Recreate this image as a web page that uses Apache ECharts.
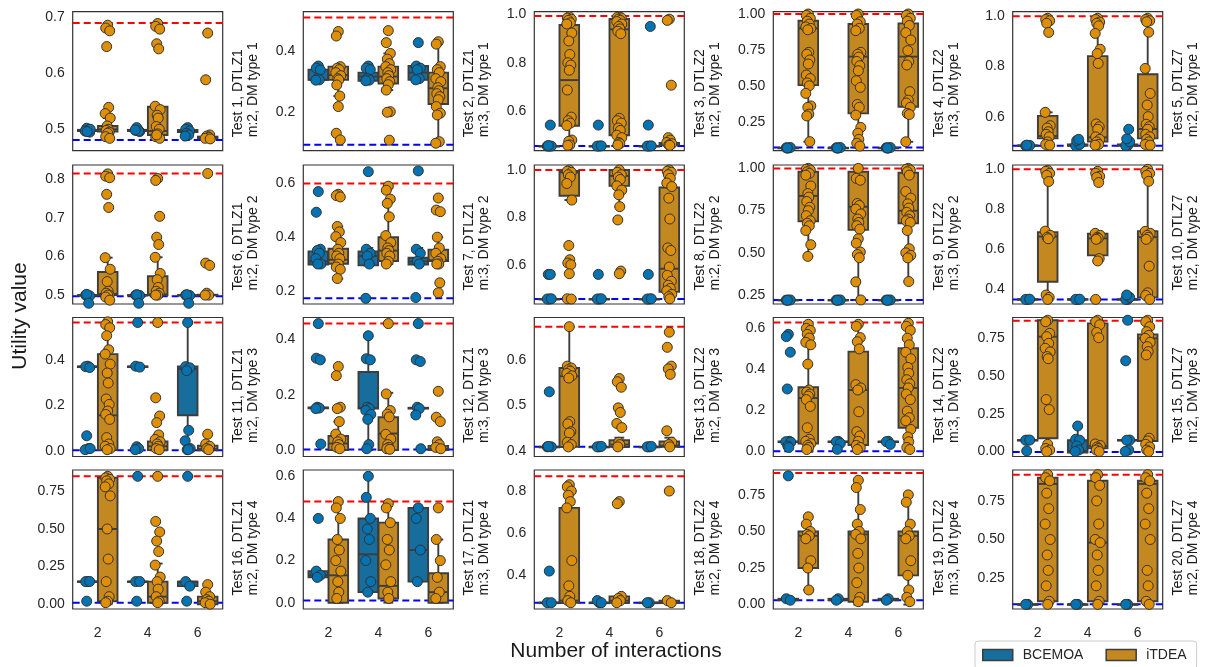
<!DOCTYPE html>
<html><head><meta charset="utf-8">
<script src="https://cdn.jsdelivr.net/npm/echarts@6/dist/echarts.min.js"></script>
<style>html,body{margin:0;padding:0;background:#fff}#c{width:1205px;height:667px}</style>
</head><body><div id="c"></div>
<script>
const categories = ['2', '4', '6'];
const seriesNames = ['BCEMOA', 'iTDEA'];
const xAxisTitle = 'Number of interactions';
const yAxisTitle = 'Utility value';
const panelTitles = [
  'Test 1, DTLZ1\nm:2, DM type 1', 'Test 2, DTLZ1\nm:3, DM type 1', 'Test 3, DTLZ2\nm:2, DM type 1', 'Test 4, DTLZ2\nm:3, DM type 1', 'Test 5, DTLZ7\nm:2, DM type 1',
  'Test 6, DTLZ1\nm:2, DM type 2', 'Test 7, DTLZ1\nm:3, DM type 2', 'Test 8, DTLZ2\nm:2, DM type 2', 'Test 9, DTLZ2\nm:3, DM type 2', 'Test 10, DTLZ7\nm:2, DM type 2',
  'Test 11, DTLZ1\nm:2, DM type 3', 'Test 12, DTLZ1\nm:3, DM type 3', 'Test 13, DTLZ2\nm:2, DM type 3', 'Test 14, DTLZ2\nm:3, DM type 3', 'Test 15, DTLZ7\nm:2, DM type 3',
  'Test 16, DTLZ1\nm:2, DM type 4', 'Test 17, DTLZ1\nm:3, DM type 4', 'Test 18, DTLZ2\nm:2, DM type 4', 'Test 19, DTLZ2\nm:3, DM type 4', 'Test 20, DTLZ7\nm:2, DM type 4'
];

// ---- Test 1 ----
const t1Range = [0.462, 0.709];
const t1Ticks = ['0.5', '0.6', '0.7'];
const t1Ref = [0.689, 0.481];
const t1BoxB = [[0.495, 0.497, 0.498, 0.499, 0.501], [0.495, 0.497, 0.498, 0.499, 0.501], [0.49, 0.495, 0.497, 0.499, 0.503]];
const t1BoxI = [[0.483, 0.496, 0.5, 0.506, 0.52], [0.482, 0.49, 0.497, 0.54, 0.54], [0.483, 0.484, 0.485, 0.487, 0.49]];
const t1PtsB = [[0.5, 0.497, 0.495, 0.502, 0.499, 0.497, 0.5, 0.496], [0.5, 0.498, 0.496, 0.503, 0.497, 0.499], [0.503, 0.5, 0.497, 0.493, 0.49, 0.488]];
const t1PtsI = [[0.685, 0.68, 0.675, 0.647, 0.539, 0.528, 0.52, 0.506, 0.5, 0.498, 0.495, 0.493, 0.487, 0.484], [0.688, 0.683, 0.678, 0.652, 0.643, 0.541, 0.535, 0.525, 0.52, 0.505, 0.5, 0.492, 0.487, 0.484, 0.49], [0.671, 0.588, 0.49, 0.488, 0.486, 0.484, 0.483]];
// ---- Test 2 ----
const t2Range = [0.07, 0.533];
const t2Ticks = ['0.2', '0.4'];
const t2Ref = [0.514, 0.09];
const t2BoxB = [[0.305, 0.306, 0.306, 0.34, 0.352], [0.303, 0.303, 0.317, 0.33, 0.352], [0.306, 0.306, 0.33, 0.352, 0.352]];
const t2BoxI = [[0.252, 0.306, 0.322, 0.35, 0.352], [0.272, 0.294, 0.317, 0.35, 0.394], [0.1, 0.2256, 0.278, 0.33, 0.433]];
const t2PtsB = [[0.352, 0.345, 0.339, 0.31, 0.306, 0.305], [0.352, 0.345, 0.34, 0.31, 0.305, 0.303], [0.43, 0.352, 0.345, 0.34, 0.31, 0.306]];
const t2PtsI = [[0.467, 0.452, 0.35, 0.345, 0.34, 0.33, 0.32, 0.31, 0.306, 0.289, 0.252, 0.217, 0.128, 0.106], [0.47, 0.43, 0.394, 0.375, 0.36, 0.35, 0.34, 0.33, 0.32, 0.31, 0.3, 0.29, 0.272, 0.2, 0.198, 0.105], [0.433, 0.425, 0.35, 0.34, 0.33, 0.31, 0.3, 0.28, 0.27, 0.26, 0.25, 0.24, 0.217, 0.195, 0.189, 0.1, 0.095]];
// ---- Test 3 ----
const t3Range = [0.436, 1.011];
const t3Ticks = ['0.6', '0.8', '1.0'];
const t3Ref = [0.993, 0.455];
const t3BoxB = [[0.455, 0.455, 0.455, 0.455, 0.455], [0.455, 0.455, 0.455, 0.455, 0.455], [0.455, 0.455, 0.455, 0.455, 0.455]];
const t3BoxI = [[0.465, 0.539, 0.728, 0.956, 0.99], [0.455, 0.5, 0.938, 0.981, 0.995], [0.455, 0.46, 0.462, 0.468, 0.49]];
const t3PtsB = [[0.455, 0.455, 0.455, 0.457, 0.542], [0.455, 0.455, 0.456, 0.542], [0.455, 0.455, 0.456, 0.542, 0.95]];
const t3PtsI = [[0.99, 0.985, 0.98, 0.975, 0.965, 0.96, 0.923, 0.89, 0.834, 0.8, 0.79, 0.769, 0.687, 0.575, 0.56, 0.55, 0.54, 0.48, 0.475, 0.46, 0.458], [0.99, 0.988, 0.985, 0.98, 0.975, 0.97, 0.96, 0.95, 0.94, 0.93, 0.92, 0.57, 0.56, 0.55, 0.53, 0.52, 0.5, 0.49, 0.47, 0.465, 0.46], [0.98, 0.975, 0.707, 0.49, 0.48, 0.47, 0.465, 0.46, 0.458]];
// ---- Test 4 ----
const t4Range = [0.048, 1.016];
const t4Ticks = ['0.25', '0.50', '0.75', '1.00'];
const t4Ref = [1.0, 0.071];
const t4BoxB = [[0.065, 0.066, 0.067, 0.068, 0.07], [0.065, 0.066, 0.067, 0.068, 0.07], [0.065, 0.066, 0.067, 0.068, 0.07]];
const t4BoxI = [[0.111, 0.505, 0.9, 0.953, 1.0], [0.07, 0.308, 0.703, 0.93, 1.0], [0.11, 0.354, 0.703, 0.935, 1.0]];
const t4PtsB = [[0.066, 0.068, 0.07, 0.067], [0.066, 0.068, 0.07, 0.067], [0.066, 0.068, 0.07, 0.067]];
const t4PtsI = [[1.0, 0.99, 0.97, 0.95, 0.93, 0.91, 0.9, 0.89, 0.733, 0.72, 0.68, 0.652, 0.575, 0.55, 0.52, 0.5, 0.447, 0.36, 0.35, 0.303, 0.29, 0.111], [1.0, 0.99, 0.946, 0.93, 0.9, 0.884, 0.733, 0.72, 0.7, 0.67, 0.64, 0.605, 0.535, 0.489, 0.37, 0.35, 0.296, 0.21, 0.17, 0.127, 0.1, 0.08], [1.0, 0.99, 0.97, 0.95, 0.92, 0.87, 0.819, 0.745, 0.67, 0.645, 0.459, 0.4, 0.38, 0.35, 0.308, 0.3, 0.11]];
// ---- Test 5 ----
const t5Range = [0.465, 1.016];
const t5Ticks = ['0.6', '0.8', '1.0'];
const t5Ref = [0.998, 0.485];
const t5BoxB = [[0.485, 0.485, 0.485, 0.486, 0.487], [0.485, 0.485, 0.486, 0.49, 0.5], [0.485, 0.485, 0.486, 0.49, 0.5]];
const t5BoxI = [[0.485, 0.514, 0.523, 0.603, 0.617], [0.485, 0.501, 0.518, 0.84, 0.99], [0.485, 0.514, 0.551, 0.768, 0.99]];
const t5PtsB = [[0.485, 0.485, 0.486, 0.487], [0.485, 0.485, 0.49, 0.505, 0.51], [0.485, 0.485, 0.5, 0.512, 0.55]];
const t5PtsI = [[0.99, 0.985, 0.98, 0.97, 0.934, 0.617, 0.564, 0.555, 0.54, 0.53, 0.52, 0.5, 0.49, 0.487], [0.99, 0.985, 0.975, 0.97, 0.96, 0.93, 0.867, 0.85, 0.811, 0.571, 0.56, 0.55, 0.52, 0.51, 0.5, 0.49, 0.487], [0.99, 0.985, 0.98, 0.976, 0.935, 0.791, 0.692, 0.646, 0.6, 0.57, 0.56, 0.55, 0.53, 0.52, 0.51, 0.5, 0.49, 0.487]];
// ---- Test 6 ----
const t6Range = [0.477, 0.837];
const t6Ticks = ['0.5', '0.6', '0.7', '0.8'];
const t6Ref = [0.815, 0.497];
const t6BoxB = [[0.499, 0.5, 0.5, 0.5, 0.501], [0.499, 0.5, 0.5, 0.5, 0.501], [0.499, 0.5, 0.5, 0.5, 0.501]];
const t6BoxI = [[0.49, 0.5, 0.503, 0.56, 0.597], [0.495, 0.5, 0.502, 0.549, 0.598], [0.499, 0.5, 0.5, 0.501, 0.505]];
const t6PtsB = [[0.5, 0.5, 0.498, 0.502, 0.479], [0.5, 0.5, 0.499, 0.501, 0.479], [0.5, 0.5, 0.499, 0.501, 0.479]];
const t6PtsI = [[0.814, 0.808, 0.804, 0.761, 0.727, 0.597, 0.567, 0.535, 0.51, 0.505, 0.5, 0.5, 0.495, 0.487], [0.802, 0.797, 0.704, 0.65, 0.631, 0.598, 0.556, 0.54, 0.52, 0.51, 0.505, 0.5, 0.5], [0.815, 0.583, 0.577, 0.505, 0.5, 0.5]];
// ---- Test 7 ----
const t7Range = [0.151, 0.669];
const t7Ticks = ['0.2', '0.4', '0.6'];
const t7Ref = [0.6, 0.172];
const t7BoxB = [[0.298, 0.298, 0.31, 0.347, 0.36], [0.295, 0.295, 0.33, 0.347, 0.36], [0.298, 0.298, 0.31, 0.3235, 0.36]];
const t7BoxI = [[0.245, 0.301, 0.316, 0.357, 0.44], [0.3, 0.311, 0.35, 0.4, 0.585], [0.3, 0.311, 0.314, 0.353, 0.4]];
const t7PtsB = [[0.57, 0.493, 0.355, 0.35, 0.34, 0.32, 0.3, 0.3], [0.644, 0.355, 0.34, 0.33, 0.3, 0.172], [0.647, 0.355, 0.34, 0.31, 0.3, 0.175]];
const t7PtsI = [[0.56, 0.555, 0.55, 0.44, 0.42, 0.402, 0.38, 0.355, 0.34, 0.33, 0.32, 0.3, 0.289, 0.28, 0.246], [0.59, 0.575, 0.542, 0.526, 0.476, 0.406, 0.38, 0.36, 0.35, 0.34, 0.33, 0.31, 0.3], [0.546, 0.501, 0.495, 0.4, 0.36, 0.34, 0.32, 0.31, 0.3, 0.3, 0.23, 0.193]];
// ---- Test 8 ----
const t8Range = [0.434, 1.021];
const t8Ticks = ['0.6', '0.8', '1.0'];
const t8Ref = [1.0, 0.455];
const t8BoxB = [[0.455, 0.455, 0.455, 0.455, 0.455], [0.455, 0.455, 0.455, 0.455, 0.455], [0.455, 0.455, 0.455, 0.455, 0.455]];
const t8BoxI = [[0.873, 0.891, 0.99, 0.996, 1.0], [0.845, 0.933, 0.975, 1.0, 1.0], [0.455, 0.485, 0.583, 0.926, 1.0]];
const t8PtsB = [[0.455, 0.455, 0.456, 0.559, 0.559], [0.455, 0.455, 0.456, 0.559], [0.455, 0.455, 0.456, 0.559]];
const t8PtsI = [[1.0, 0.995, 0.99, 0.98, 0.97, 0.943, 0.873, 0.681, 0.621, 0.607, 0.6, 0.562, 0.456, 0.455], [1.0, 0.99, 0.98, 0.97, 0.96, 0.933, 0.915, 0.895, 0.845, 0.789, 0.573, 0.562], [1.0, 0.995, 0.99, 0.98, 0.965, 0.945, 0.93, 0.881, 0.793, 0.671, 0.66, 0.59, 0.555, 0.53, 0.513, 0.5, 0.49, 0.475, 0.465, 0.456]];
// ---- Test 9 ----
const t9Range = [0.197, 1.02];
const t9Ticks = ['0.25', '0.50', '0.75', '1.00'];
const t9Ref = [1.0, 0.2206];
const t9BoxB = [[0.219, 0.22, 0.22, 0.221, 0.222], [0.219, 0.22, 0.22, 0.221, 0.222], [0.219, 0.22, 0.22, 0.221, 0.222]];
const t9BoxI = [[0.479, 0.687, 0.837, 0.98, 1.0], [0.22, 0.636, 0.773, 0.98, 1.0], [0.33, 0.675, 0.749, 0.974, 1.0]];
const t9PtsB = [[0.22, 0.22, 0.221, 0.219], [0.22, 0.22, 0.221, 0.219], [0.22, 0.22, 0.221, 0.219]];
const t9PtsI = [[1.0, 0.995, 0.99, 0.98, 0.97, 0.96, 0.896, 0.851, 0.83, 0.804, 0.77, 0.75, 0.72, 0.69, 0.675, 0.66, 0.632, 0.548, 0.479], [1.0, 0.941, 0.93, 0.792, 0.78, 0.759, 0.73, 0.7, 0.68, 0.661, 0.64, 0.583, 0.557, 0.505, 0.49, 0.471, 0.328, 0.221], [1.0, 0.995, 0.99, 0.98, 0.96, 0.863, 0.824, 0.79, 0.765, 0.74, 0.72, 0.7, 0.69, 0.68, 0.632, 0.524, 0.5, 0.485, 0.47, 0.33]];
// ---- Test 10 ----
const t10Range = [0.327, 1.0215];
const t10Ticks = ['0.4', '0.6', '0.8', '1.0'];
const t10Ref = [1.0, 0.35];
const t10BoxB = [[0.349, 0.35, 0.35, 0.351, 0.352], [0.349, 0.35, 0.35, 0.351, 0.352], [0.349, 0.35, 0.35, 0.351, 0.352]];
const t10BoxI = [[0.35, 0.438, 0.664, 0.686, 0.995], [0.542, 0.57, 0.655, 0.678, 0.68], [0.35, 0.36, 0.661, 0.691, 1.0]];
const t10PtsB = [[0.35, 0.35, 0.351], [0.35, 0.35, 0.351], [0.35, 0.35, 0.36, 0.372]];
const t10PtsI = [[0.995, 0.99, 0.98, 0.97, 0.939, 0.691, 0.67, 0.66, 0.653, 0.372, 0.36, 0.35], [0.99, 0.98, 0.965, 0.96, 0.934, 0.68, 0.67, 0.66, 0.655, 0.65, 0.554, 0.542, 0.35], [1.0, 0.99, 0.98, 0.97, 0.94, 0.69, 0.68, 0.67, 0.66, 0.65, 0.516, 0.383, 0.37, 0.35]];
// ---- Test 11 ----
const t11Range = [-0.025, 0.586];
const t11Ticks = ['0.0', '0.2', '0.4'];
const t11Ref = [0.564, 0.003];
const t11BoxB = [[0.365, 0.368, 0.37, 0.371, 0.372], [0.365, 0.368, 0.37, 0.371, 0.372], [0.005, 0.156, 0.36, 0.371, 0.564]];
const t11BoxI = [[0.0, 0.003, 0.156, 0.425, 0.564], [0.0, 0.003, 0.02, 0.041, 0.07], [0.0, 0.002, 0.008, 0.022, 0.03]];
const t11PtsB = [[0.372, 0.37, 0.366, 0.066, 0.01, 0.005, 0.01], [0.564, 0.372, 0.368, 0.018, 0.01, 0.005], [0.564, 0.37, 0.365, 0.352, 0.09, 0.044, 0.01, 0.005, 0.005]];
const t11PtsI = [[0.567, 0.555, 0.541, 0.506, 0.444, 0.425, 0.381, 0.342, 0.298, 0.228, 0.204, 0.175, 0.16, 0.138, 0.058, 0.03, 0.02, 0.01, 0.005], [0.564, 0.233, 0.153, 0.124, 0.07, 0.05, 0.04, 0.03, 0.02, 0.01, 0.005], [0.073, 0.03, 0.02, 0.01, 0.005]];
// ---- Test 12 ----
const t12Range = [-0.023, 0.479];
const t12Ticks = ['0.0', '0.2', '0.4'];
const t12Ref = [0.457, 0.002];
const t12BoxB = [[0.15, 0.151, 0.153, 0.154, 0.155], [0.0, 0.15, 0.152, 0.282, 0.413], [0.148, 0.15, 0.152, 0.153, 0.155]];
const t12BoxI = [[0.0, 0.0, 0.024, 0.051, 0.103], [0.0, 0.0, 0.06, 0.119, 0.207], [0.0, 0.0, 0.005, 0.0155, 0.03]];
const t12PtsB = [[0.457, 0.332, 0.326, 0.155, 0.152, 0.15, 0.022], [0.413, 0.33, 0.326, 0.155, 0.15, 0.143, 0.129, 0.111, 0.02, 0.005], [0.457, 0.326, 0.32, 0.155, 0.15, 0.127, 0.005]];
const t12PtsI = [[0.302, 0.269, 0.155, 0.15, 0.103, 0.058, 0.04, 0.03, 0.02, 0.01, 0.005], [0.457, 0.203, 0.143, 0.13, 0.12, 0.057, 0.04, 0.02, 0.01, 0.005, 0.003], [0.2125, 0.119, 0.103, 0.03, 0.02, 0.01, 0.005]];
// ---- Test 13 ----
const t13Range = [0.389, 0.692];
const t13Ticks = ['0.4', '0.5', '0.6'];
const t13Ref = [0.672, 0.41];
const t13BoxB = [[0.409, 0.41, 0.41, 0.41, 0.411], [0.409, 0.41, 0.41, 0.41, 0.411], [0.409, 0.41, 0.41, 0.41, 0.411]];
const t13BoxI = [[0.41, 0.41, 0.564, 0.582, 0.672], [0.41, 0.41, 0.415, 0.4245, 0.43], [0.41, 0.41, 0.413, 0.4217, 0.43]];
const t13PtsB = [[0.53, 0.41, 0.41, 0.411], [0.41, 0.41, 0.411], [0.41, 0.41, 0.411]];
const t13PtsI = [[0.672, 0.586, 0.582, 0.578, 0.575, 0.57, 0.565, 0.56, 0.465, 0.46, 0.443, 0.44, 0.42, 0.415, 0.41], [0.559, 0.552, 0.54, 0.495, 0.485, 0.461, 0.452, 0.42, 0.415, 0.41], [0.66, 0.627, 0.586, 0.58, 0.568, 0.445, 0.42, 0.415, 0.41]];
// ---- Test 14 ----
const t14Range = [-0.024, 0.653];
const t14Ticks = ['0.0', '0.2', '0.4', '0.6'];
const t14Ref = [0.629, 0.002];
const t14BoxB = [[0.045, 0.046, 0.048, 0.049, 0.05], [0.045, 0.046, 0.048, 0.049, 0.05], [0.045, 0.046, 0.048, 0.049, 0.05]];
const t14BoxI = [[0.0, 0.039, 0.261, 0.313, 0.63], [0.0, 0.032, 0.3, 0.487, 0.62], [0.0, 0.116, 0.31, 0.503, 0.63]];
const t14PtsB = [[0.571, 0.56, 0.484, 0.305, 0.05, 0.048, 0.046, 0.027, 0.02], [0.05, 0.048, 0.04, 0.011], [0.05, 0.048, 0.035]];
const t14PtsI = [[0.62, 0.6, 0.59, 0.571, 0.553, 0.532, 0.52, 0.426, 0.3, 0.29, 0.28, 0.27, 0.253, 0.22, 0.116, 0.06, 0.05, 0.039, 0.03, 0.02, 0.01], [0.62, 0.61, 0.555, 0.535, 0.5, 0.326, 0.31, 0.3, 0.194, 0.097, 0.076, 0.05, 0.03, 0.02, 0.01], [0.625, 0.61, 0.59, 0.552, 0.52, 0.484, 0.452, 0.41, 0.382, 0.35, 0.33, 0.31, 0.28, 0.253, 0.197, 0.165, 0.15, 0.108, 0.071, 0.048, 0.02, 0.01]];
// ---- Test 15 ----
const t15Range = [-0.033, 0.888];
const t15Ticks = ['0.00', '0.25', '0.50', '0.75'];
const t15Ref = [0.866, -0.003];
const t15BoxB = [[0.073, 0.074, 0.075, 0.076, 0.077], [-0.006, -0.006, 0.004, 0.075, 0.169], [0.073, 0.074, 0.075, 0.076, 0.077]];
const t15BoxI = [[0.0, 0.088, 0.761, 0.87, 0.87], [0.0, 0.022, 0.037, 0.849, 0.87], [0.0, 0.07, 0.75, 0.776, 0.87]];
const t15PtsB = [[0.075, 0.075, 0.076, 0.004], [0.169, 0.081, 0.075, 0.037, 0.01, 0.0], [0.87, 0.601, 0.076, 0.075, 0.01, 0.0]];
const t15PtsI = [[0.87, 0.86, 0.783, 0.761, 0.717, 0.684, 0.66, 0.629, 0.615, 0.344, 0.278, 0.048, 0.02, 0.01, 0.0], [0.87, 0.86, 0.84, 0.789, 0.754, 0.05, 0.04, 0.03, 0.02, 0.01, 0.0], [0.87, 0.86, 0.827, 0.794, 0.77, 0.75, 0.724, 0.695, 0.662, 0.64, 0.088, 0.07, 0.048, 0.03, 0.01, 0.0]];
// ---- Test 16 ----
const t16Range = [-0.032, 0.892];
const t16Ticks = ['0.00', '0.25', '0.50', '0.75'];
const t16Ref = [0.85, 0.01];
const t16BoxB = [[0.148, 0.15, 0.15, 0.151, 0.152], [0.148, 0.15, 0.15, 0.151, 0.152], [0.12, 0.12, 0.15, 0.15, 0.15]];
const t16BoxI = [[0.0, 0.02, 0.5, 0.84, 0.85], [0.0, 0.01, 0.05, 0.15, 0.27], [0.0, 0.0, 0.02, 0.05, 0.13]];
const t16PtsB = [[0.15, 0.15, 0.151, 0.02], [0.85, 0.15, 0.151, 0.02], [0.85, 0.15, 0.12, 0.02]];
const t16PtsI = [[0.85, 0.84, 0.83, 0.82, 0.8, 0.78, 0.72, 0.5, 0.3, 0.15, 0.05, 0.02, 0.01], [0.85, 0.55, 0.48, 0.42, 0.35, 0.26, 0.18, 0.15, 0.1, 0.05, 0.02, 0.01], [0.13, 0.08, 0.05, 0.03, 0.02, 0.01, 0.0]];
// ---- Test 17 ----
const t17Range = [-0.03, 0.63];
const t17Ticks = ['0.0', '0.2', '0.4', '0.6'];
const t17Ref = [0.48, 0.01];
const t17BoxB = [[0.12, 0.12, 0.13, 0.15, 0.15], [0.05, 0.05, 0.23, 0.4, 0.6], [0.1, 0.1, 0.25, 0.45, 0.45]];
const t17BoxI = [[0.0, 0.0, 0.13, 0.3, 0.48], [0.0, 0.02, 0.08, 0.38, 0.47], [0.0, 0.0, 0.05, 0.14, 0.3]];
const t17PtsB = [[0.4, 0.15, 0.13, 0.12], [0.6, 0.5, 0.4, 0.35, 0.3, 0.2, 0.1, 0.05], [0.45, 0.4, 0.25, 0.1]];
const t17PtsI = [[0.48, 0.45, 0.4, 0.3, 0.25, 0.2, 0.15, 0.1, 0.05, 0.02], [0.47, 0.45, 0.38, 0.3, 0.25, 0.18, 0.1, 0.05, 0.02], [0.45, 0.3, 0.2, 0.12, 0.05, 0.02]];
// ---- Test 18 ----
const t18Range = [0.24, 0.9];
const t18Ticks = ['0.4', '0.6', '0.8'];
const t18Ref = [0.87, 0.27];
const t18BoxB = [[0.269, 0.27, 0.27, 0.27, 0.271], [0.269, 0.27, 0.27, 0.27, 0.271], [0.269, 0.27, 0.27, 0.27, 0.271]];
const t18BoxI = [[0.27, 0.27, 0.28, 0.72, 0.83], [0.27, 0.27, 0.28, 0.3, 0.3], [0.27, 0.27, 0.27, 0.28, 0.28]];
const t18PtsB = [[0.42, 0.27, 0.27], [0.27, 0.28, 0.27], [0.27, 0.27]];
const t18PtsI = [[0.83, 0.82, 0.8, 0.78, 0.75, 0.72, 0.47, 0.35, 0.3, 0.28, 0.27], [0.75, 0.74, 0.3, 0.29, 0.28, 0.27], [0.8, 0.28, 0.27]];
// ---- Test 19 ----
const t19Range = [-0.03, 0.92];
const t19Ticks = ['0.00', '0.25', '0.50', '0.75'];
const t19Ref = [0.9, 0.03];
const t19BoxB = [[0.03, 0.03, 0.035, 0.04, 0.04], [0.03, 0.03, 0.035, 0.04, 0.04], [0.03, 0.03, 0.035, 0.04, 0.04]];
const t19BoxI = [[0.1, 0.25, 0.47, 0.5, 0.6], [0.0, 0.02, 0.48, 0.5, 0.85], [0.0, 0.2, 0.47, 0.5, 0.75]];
const t19PtsB = [[0.88, 0.04, 0.03], [0.04, 0.03], [0.04, 0.03]];
const t19PtsI = [[0.6, 0.55, 0.5, 0.48, 0.47, 0.45, 0.3, 0.25, 0.1], [0.85, 0.8, 0.65, 0.55, 0.5, 0.48, 0.45, 0.35, 0.25, 0.15, 0.05, 0.02], [0.75, 0.7, 0.55, 0.5, 0.47, 0.45, 0.3, 0.2, 0.1, 0.05, 0.02]];
// ---- Test 20 ----
const t20Range = [0.05, 0.95];
const t20Ticks = ['0.25', '0.50', '0.75'];
const t20Ref = [0.92, 0.08];
const t20BoxB = [[0.079, 0.08, 0.08, 0.08, 0.081], [0.079, 0.08, 0.08, 0.08, 0.081], [0.079, 0.08, 0.08, 0.08, 0.081]];
const t20BoxI = [[0.08, 0.1, 0.86, 0.9, 0.92], [0.08, 0.1, 0.48, 0.88, 0.92], [0.08, 0.1, 0.86, 0.88, 0.92]];
const t20PtsB = [[0.08, 0.08], [0.08, 0.08], [0.08, 0.08]];
const t20PtsI = [[0.92, 0.9, 0.88, 0.8, 0.7, 0.6, 0.5, 0.4, 0.3, 0.2, 0.1, 0.08], [0.92, 0.9, 0.85, 0.75, 0.6, 0.5, 0.48, 0.4, 0.3, 0.2, 0.1, 0.08], [0.92, 0.9, 0.88, 0.8, 0.7, 0.6, 0.5, 0.3, 0.2, 0.1, 0.08]];

const panels = [
  [t1Range, t1Ticks, t1Ref, t1BoxB, t1BoxI, t1PtsB, t1PtsI],
  [t2Range, t2Ticks, t2Ref, t2BoxB, t2BoxI, t2PtsB, t2PtsI],
  [t3Range, t3Ticks, t3Ref, t3BoxB, t3BoxI, t3PtsB, t3PtsI],
  [t4Range, t4Ticks, t4Ref, t4BoxB, t4BoxI, t4PtsB, t4PtsI],
  [t5Range, t5Ticks, t5Ref, t5BoxB, t5BoxI, t5PtsB, t5PtsI],
  [t6Range, t6Ticks, t6Ref, t6BoxB, t6BoxI, t6PtsB, t6PtsI],
  [t7Range, t7Ticks, t7Ref, t7BoxB, t7BoxI, t7PtsB, t7PtsI],
  [t8Range, t8Ticks, t8Ref, t8BoxB, t8BoxI, t8PtsB, t8PtsI],
  [t9Range, t9Ticks, t9Ref, t9BoxB, t9BoxI, t9PtsB, t9PtsI],
  [t10Range, t10Ticks, t10Ref, t10BoxB, t10BoxI, t10PtsB, t10PtsI],
  [t11Range, t11Ticks, t11Ref, t11BoxB, t11BoxI, t11PtsB, t11PtsI],
  [t12Range, t12Ticks, t12Ref, t12BoxB, t12BoxI, t12PtsB, t12PtsI],
  [t13Range, t13Ticks, t13Ref, t13BoxB, t13BoxI, t13PtsB, t13PtsI],
  [t14Range, t14Ticks, t14Ref, t14BoxB, t14BoxI, t14PtsB, t14PtsI],
  [t15Range, t15Ticks, t15Ref, t15BoxB, t15BoxI, t15PtsB, t15PtsI],
  [t16Range, t16Ticks, t16Ref, t16BoxB, t16BoxI, t16PtsB, t16PtsI],
  [t17Range, t17Ticks, t17Ref, t17BoxB, t17BoxI, t17PtsB, t17PtsI],
  [t18Range, t18Ticks, t18Ref, t18BoxB, t18BoxI, t18PtsB, t18PtsI],
  [t19Range, t19Ticks, t19Ref, t19BoxB, t19BoxI, t19PtsB, t19PtsI],
  [t20Range, t20Ticks, t20Ref, t20BoxB, t20BoxI, t20PtsB, t20PtsI]
];

// ---- layout & style ----
const FONT = '"Liberation Sans", Arial, sans-serif';
const colLeft = [72.7, 303.3, 534.3, 773.3, 1012.7];
const rowTop = [11.7, 165, 317.5, 470];
const W = 150, H = 139;
const pointColor = ['#0173b2', '#de8f05'];
const boxColor = ['#176d9c', '#c38820'];
const lineGray = '#3d3d3d';
const textColor = '#262626';
const jitterPx = [0, -2, 2, -1, 1, -2.5, 2.5, -0.5, 0.5, -1.5, 1.5];

function boxRenderer(hue) {
  return function (params, api) {
    const cat = api.value(0);
    const band = api.size([1, 0])[0];
    const cx = api.coord([cat, api.value(3)])[0] + (hue === 0 ? -0.2 : 0.2) * band;
    const w = 0.4 * band * 0.98;
    const ys = [1, 2, 3, 4, 5].map(d => api.coord([cat, api.value(d)])[1]);
    const ls = { stroke: lineGray, lineWidth: 1.9 };
    return {
      type: 'group', children: [
        { type: 'line', shape: { x1: cx, y1: ys[1], x2: cx, y2: ys[0] }, style: ls },
        { type: 'line', shape: { x1: cx, y1: ys[3], x2: cx, y2: ys[4] }, style: ls },
        { type: 'line', shape: { x1: cx - w / 4, y1: ys[0], x2: cx + w / 4, y2: ys[0] }, style: ls },
        { type: 'line', shape: { x1: cx - w / 4, y1: ys[4], x2: cx + w / 4, y2: ys[4] }, style: ls },
        { type: 'rect', shape: { x: cx - w / 2, y: ys[3], width: w, height: Math.max(ys[1] - ys[3], 0.5) }, style: { fill: boxColor[hue], stroke: lineGray, lineWidth: 1.9 } },
        { type: 'line', shape: { x1: cx - w / 2, y1: ys[2], x2: cx + w / 2, y2: ys[2] }, style: ls }
      ]
    };
  };
}

function refRenderer(params, api) {
  const y = api.coord([0, api.value(1)])[1];
  const cs = params.coordSys;
  return {
    type: 'line',
    shape: { x1: cs.x, y1: y, x2: cs.x + cs.width, y2: y },
    style: { stroke: api.value(2) === 0 ? '#ff0000' : '#0000ff', lineWidth: 2, lineDash: [7, 4] }
  };
}

const grid = [], xAxis = [], yAxis = [], series = [], graphic = [];
panels.forEach((p, k) => {
  const [range, ticks, ref, boxB, boxI, ptsB, ptsI] = p;
  const r = Math.floor(k / 5), c = k % 5;
  grid.push({ left: colLeft[c], top: rowTop[r], width: W, height: H, show: true, borderColor: '#333', borderWidth: 1.2, backgroundColor: '#fff' });
  xAxis.push({
    gridIndex: k, type: 'category', data: categories, boundaryGap: true,
    axisLine: { show: false }, axisTick: { show: false }, splitLine: { show: false },
    axisLabel: { show: r === 3, color: textColor, fontSize: 14, fontFamily: FONT, margin: 17 }
  });
  const tickVals = ticks.map(Number);
  yAxis.push({
    gridIndex: k, type: 'value', min: range[0], max: range[1], scale: true,
    axisLine: { show: false }, axisTick: { show: false }, splitLine: { show: false },
    axisLabel: {
      customValues: tickVals, color: textColor, fontSize: 14, fontFamily: FONT, margin: 8,
      formatter: v => { const i = tickVals.findIndex(t => Math.abs(t - v) < 1e-9); return i >= 0 ? ticks[i] : ''; }
    }
  });
  series.push({
    type: 'custom', xAxisIndex: k, yAxisIndex: k, silent: true, clip: false, z: 2,
    data: [[0, ref[0], 0], [0, ref[1], 1]], encode: { x: 0, y: 1 }, renderItem: refRenderer
  });
  [boxB, boxI].forEach((boxes, h) => {
    series.push({
      type: 'custom', name: seriesNames[h], xAxisIndex: k, yAxisIndex: k, silent: true, clip: false, z: 3,
      data: boxes.map((b, ci) => [ci].concat(b)), encode: { x: 0, y: [1, 2, 3, 4, 5] }, renderItem: boxRenderer(h)
    });
  });
  [ptsB, ptsI].forEach((pts, h) => {
    const base = (h === 0 ? -0.2 : 0.2) * (W / categories.length);
    const data = [];
    pts.forEach((arr, ci) => arr.forEach((v, i) => data.push({ value: [ci, v], symbolOffset: [base + jitterPx[i % jitterPx.length], 0] })));
    series.push({
      type: 'scatter', name: seriesNames[h], xAxisIndex: k, yAxisIndex: k, silent: true, z: 4,
      symbol: 'circle', symbolSize: 10,
      itemStyle: { color: pointColor[h], borderColor: '#333', borderWidth: 1, opacity: 1 },
      emphasis: { disabled: true }, data
    });
  });
  graphic.push({
    type: 'text', x: colLeft[c] + W + 8, y: rowTop[r] + H - 13.5, rotation: Math.PI / 2, silent: true,
    style: { text: panelTitles[k], fill: '#1a1a1a', fontSize: 14, fontFamily: FONT, align: 'left', verticalAlign: 'top', textAlign: 'left', textVerticalAlign: 'top', lineHeight: 15 }
  });
});

graphic.push({
  type: 'text', x: 20, y: 316, rotation: Math.PI / 2, silent: true,
  style: { text: yAxisTitle, fill: '#1a1a1a', fontSize: 21, fontFamily: FONT, align: 'center', verticalAlign: 'middle', textAlign: 'center', textVerticalAlign: 'middle' }
});
graphic.push({
  type: 'text', x: 616, y: 651, silent: true,
  style: { text: xAxisTitle, fill: '#1a1a1a', fontSize: 21, fontFamily: FONT, align: 'center', verticalAlign: 'middle', textAlign: 'center', textVerticalAlign: 'middle' }
});

const chart = echarts.init(document.getElementById('c'), null, { renderer: 'canvas' });
chart.setOption({
  animation: false,
  backgroundColor: '#fff',
  grid, xAxis, yAxis, series, graphic,
  legend: {
    left: 975, top: 641, orient: 'horizontal', icon: 'rect', itemWidth: 30, itemHeight: 11, itemGap: 22,
    selectedMode: false, padding: [7, 10, 7, 7], borderColor: '#cccccc', borderWidth: 1, borderRadius: 3, backgroundColor: '#fff',
    textStyle: { fontSize: 14, color: textColor, fontFamily: FONT, padding: [0, 0, 0, 5] },
    data: [
      { name: seriesNames[0], itemStyle: { color: boxColor[0], borderColor: lineGray, borderWidth: 1.5 } },
      { name: seriesNames[1], itemStyle: { color: boxColor[1], borderColor: lineGray, borderWidth: 1.5 } }
    ]
  }
});
</script>
</body></html>
